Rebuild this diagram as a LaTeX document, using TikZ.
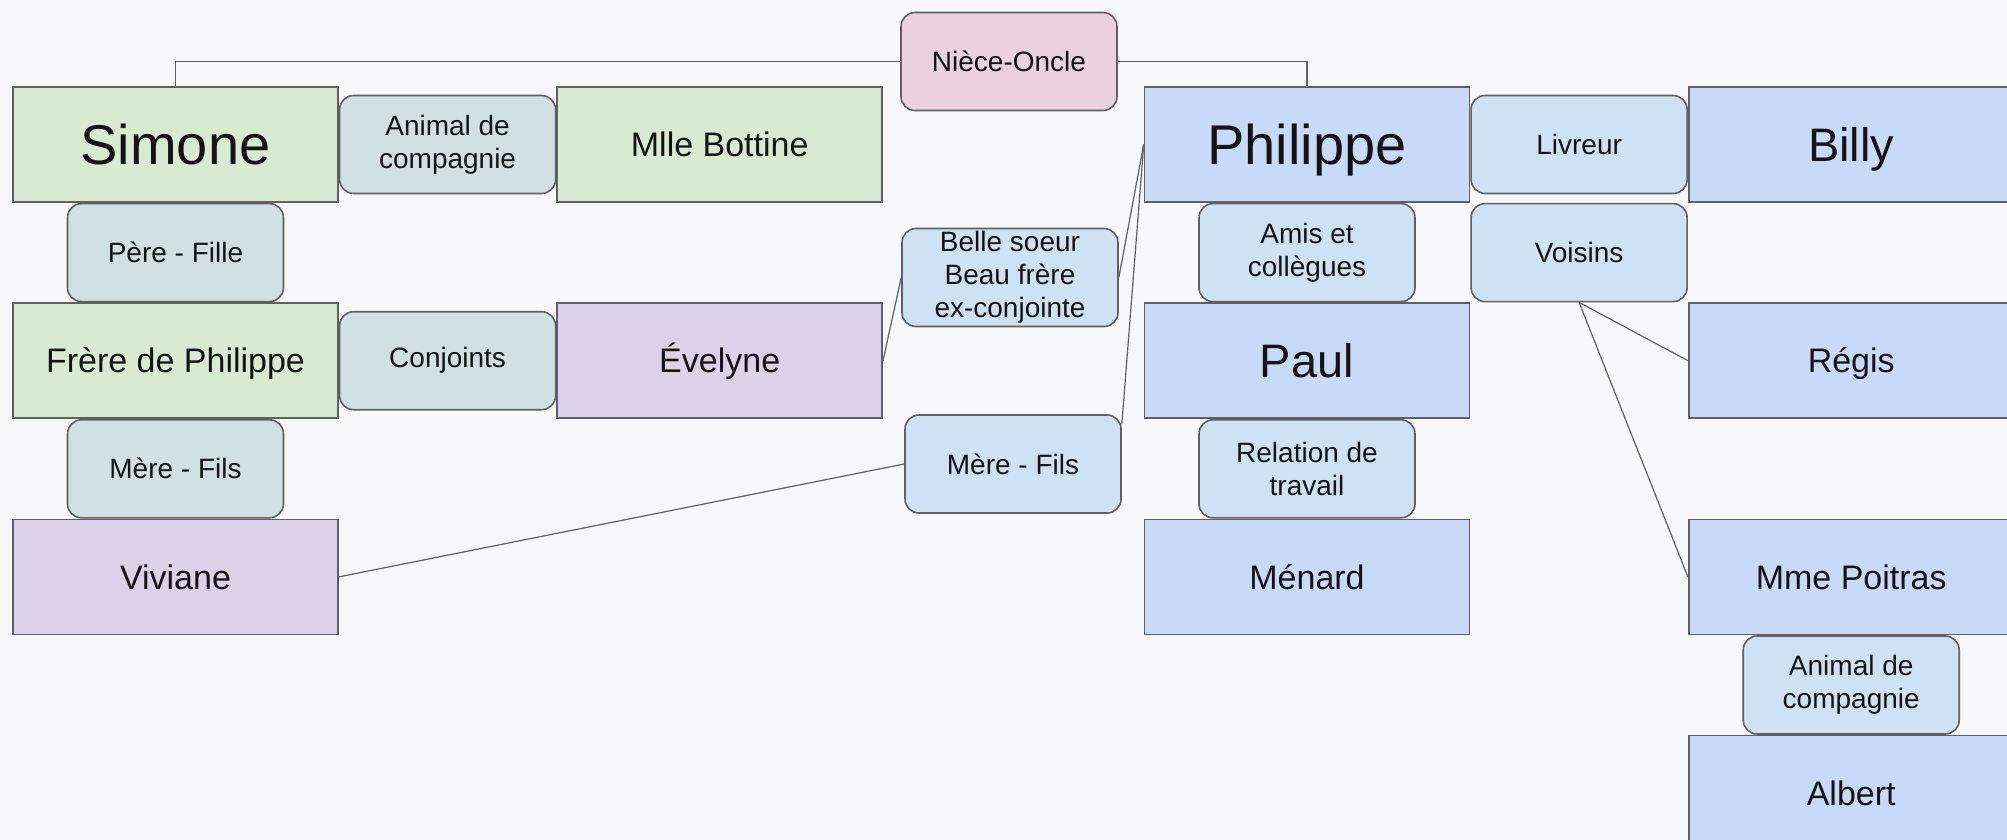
\documentclass[tikz,border=0pt]{standalone}
\usepackage{fontspec}
\setmainfont{Liberation Sans}
\usepackage{xcolor}
\usetikzlibrary{positioning}

\definecolor{paper}{HTML}{F8F8FA}
\definecolor{boxline}{HTML}{5F6062}
\definecolor{greenbox}{HTML}{D9EAD3}
\definecolor{purplebox}{HTML}{D9D2E9}
\definecolor{bluebox}{HTML}{C9DAF8}
\definecolor{cyanlink}{HTML}{D0E0E3}
\definecolor{bluelink}{HTML}{CFE2F3}
\definecolor{pinklink}{HTML}{EAD1DC}

\tikzset{
  person/.style={rectangle, draw=boxline, line width=0.8pt, text=black!92,
    minimum width=162.5pt, minimum height=57.5pt, inner sep=0pt,
    text height=12.2pt, text depth=0pt,
    align=center, font=\fontsize{17}{20}\selectfont},
  link/.style={rectangle, rounded corners=7pt, draw=boxline, line width=0.8pt,
    text=black!92, minimum width=108pt, minimum height=49pt, inner sep=0pt,
    align=center, font=\fontsize{14}{16.5}\selectfont},
  big/.style={font=\fontsize{28}{33}\selectfont, text height=20pt},
  mid/.style={font=\fontsize{23.5}{28}\selectfont, text height=16.8pt},
  tie/.style={draw=boxline, line width=0.6pt}
}

\begin{document}
\begin{tikzpicture}[x=0.5pt, y=0.5pt]
\fill[paper] (0,0) rectangle (2007,-840);
\useasboundingbox (0,0) rectangle (2007,-840);

% famille de Simone
\node[person, fill=greenbox, big] (simone) at (175.5,-144.5) {Simone};
\node[link, fill=cyanlink, right=0pt of simone] (pet1) {Animal de\\compagnie};
\node[person, fill=greenbox, right=0pt of pet1] (bottine) {Mlle Bottine};
\node[link, fill=cyanlink, below=0pt of simone] (perefille) {Père - Fille};
\node[person, fill=greenbox, below=0pt of perefille] (frere) {Frère de Philippe};
\node[link, fill=cyanlink, right=0pt of frere] (conjoints) {Conjoints};
\node[person, fill=purplebox, right=0pt of conjoints] (evelyne) {Évelyne};
\node[link, fill=cyanlink, below=0pt of frere] (merefils1) {Mère - Fils};
\node[person, fill=purplebox, below=0pt of merefils1] (viviane) {Viviane};

% liens du milieu
\node[link, fill=pinklink] (niece) at (1009,-61.5) {Nièce-Oncle};
\node[link, fill=bluelink] (belle) at (1010,-277.5) {Belle soeur\\Beau frère\\ex-conjointe};
\node[link, fill=bluelink] (merefils2) at (1013,-464) {Mère - Fils};

% entourage de Philippe
\node[person, fill=bluebox, big] (philippe) at (1307,-144.5) {Philippe};
\node[link, fill=bluelink, right=0pt of philippe] (livreur) {Livreur};
\node[person, fill=bluebox, mid, right=0pt of livreur] (billy) {Billy};
\node[link, fill=bluelink, below=0pt of philippe] (amis) {Amis et\\collègues};
\node[person, fill=bluebox, mid, below=0pt of amis] (paul) {Paul};
\node[link, fill=bluelink, below=0pt of paul] (travail) {Relation de\\travail};
\node[person, fill=bluebox, below=0pt of travail] (menard) {Ménard};
\node[link, fill=bluelink] (voisins) at (livreur |- amis) {Voisins};
\node[person, fill=bluebox] (regis) at (billy |- paul) {Régis};
\node[person, fill=bluebox] (poitras) at (billy |- menard) {Mme Poitras};
\node[link, fill=bluelink, below=0pt of poitras] (pet2) {Animal de\\compagnie};
\node[person, fill=bluebox, below=0pt of pet2] (albert) {Albert};

% connecteurs
\draw[tie] (niece.west) -| (simone.north);
\draw[tie] (niece.east) -| (philippe.north);
\draw[tie] (evelyne.east) -- (belle.west);
\draw[tie] (belle.east) -- (philippe.west);
\draw[tie] (merefils2.20) -- (philippe.west);
\draw[tie] (viviane.east) -- (merefils2.west);
\draw[tie] (voisins.south) -- (regis.west);
\draw[tie] (voisins.south) -- (poitras.west);
\end{tikzpicture}
\end{document}
